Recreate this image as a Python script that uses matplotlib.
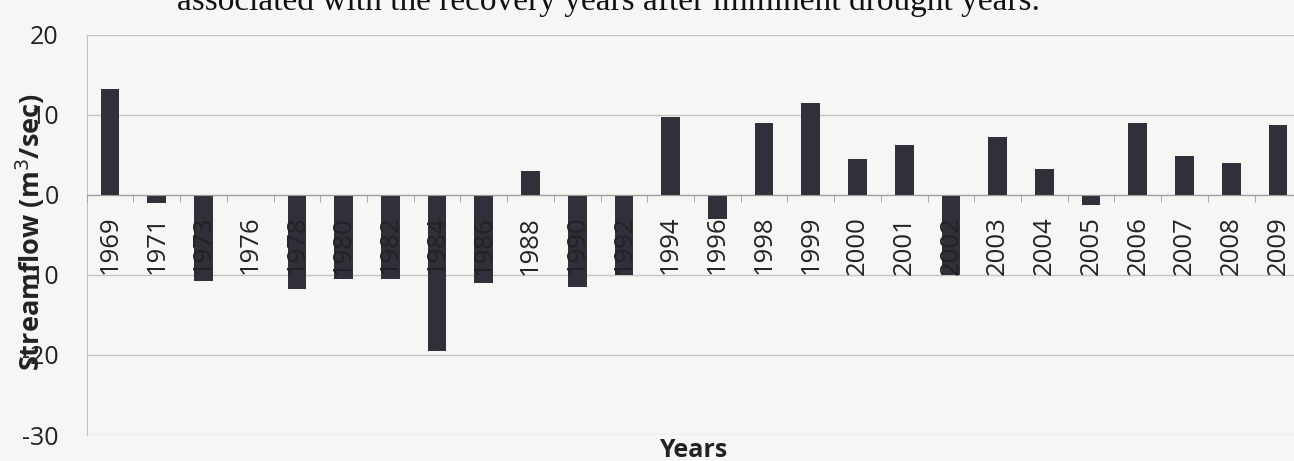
import matplotlib
matplotlib.use("Agg")
import matplotlib.pyplot as plt
import numpy as np

years = ["1969", "1971", "1973", "1976", "1978", "1980", "1982", "1984", "1986",
         "1988", "1990", "1992", "1994", "1996", "1998", "1999", "2000", "2001",
         "2002", "2003", "2004", "2005", "2006", "2007", "2008", "2009"]
streamflow = [13.2, -1.0, -10.8, 0.0, -11.8, -10.5, -10.5, -19.5, -11.0,
              3.0, -11.5, -10.0, 9.7, -3.0, 9.0, 11.5, 4.5, 6.3,
              -10.0, 7.3, 3.2, -1.2, 9.0, 4.9, 4.0, 8.8]
y_ticks = [20, 10, 0, -10, -20, -30]

W, H = 1294, 461
fig = plt.figure(figsize=(W / 100, H / 100), dpi=100)
bg = "#f6f6f4"
fig.patch.set_facecolor(bg)

# axes position in pixels
x0_px, x_last_px = 110, 1278
step = (x_last_px - x0_px) / (len(years) - 1)
left_px = x0_px - 0.5 * step
right_px = x_last_px + 0.5 * step
top_px, bot_px = 35, 435
ax = fig.add_axes([left_px / W, (H - bot_px) / H, (right_px - left_px) / W, (bot_px - top_px) / H])
ax.set_facecolor(bg)

font = "Open Sans"
x = np.arange(len(years))
ax.bar(x, streamflow, width=0.4, color="#30303a", zorder=2)

ax.set_xlim(-0.5, len(years) - 0.5)
ax.set_ylim(-30, 20)
ax.set_yticks(y_ticks)
ax.set_yticklabels([str(v) for v in y_ticks], fontsize=18, family=font, color="#222222")
ax.yaxis.grid(True, color="#c4c4c4", linewidth=1.0, zorder=0)
ax.tick_params(axis="y", length=0, pad=20)

ax.spines["bottom"].set_position(("data", 0))
ax.spines["bottom"].set_color("#9a9a9a")
ax.spines["bottom"].set_zorder(2.6)
ax.spines["left"].set_color("#c4c4c4")
ax.spines["top"].set_visible(False)
ax.spines["right"].set_visible(False)

ax.set_xticks(x)
ax.set_xticklabels(years, rotation=90, fontsize=18.5, family=font, color="#222222")
ax.set_xticks(np.arange(-0.5, len(years), 1), minor=True)
ax.tick_params(axis="x", which="major", length=0, pad=15)
ax.tick_params(axis="x", which="minor", length=5, color="#9a9a9a", direction="out")
ax.xaxis.set_zorder(3)

fig.text(30 / W, (H - 232) / H, "Streamflow (m$^3$/sec)", rotation=90, ha="center", va="center",
         fontsize=19.5, fontweight="bold", family=font, color="#222222")
fig.text(693 / W, (H - 450) / H, "Years", ha="center", va="center",
         fontsize=18, fontweight="bold", family=font, color="#222222")
fig.text(1040 / W, (H - 10) / H, "associated with the recovery years after imminent drought years.",
         ha="right", va="baseline", fontsize=24, family="Liberation Serif", color="#111111")

fig.savefig("out.png", dpi=100, facecolor=fig.get_facecolor())
